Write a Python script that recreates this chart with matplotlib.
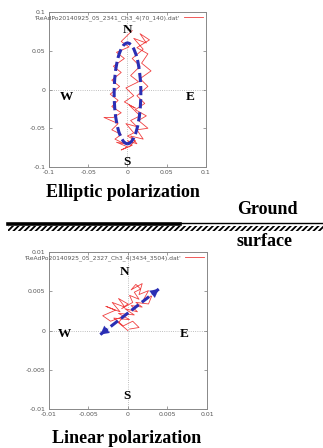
import numpy as np
import matplotlib
matplotlib.use('Agg')
import matplotlib.pyplot as plt
import matplotlib.patches as patches
import matplotlib.lines as lines

# elliptic trace (upper panel)
ell_x = [0.006, -0.008, 0.002, -0.014, -0.004, -0.018, -0.008, -0.020, -0.010, -0.022,
         -0.012, -0.020, -0.008, -0.018, -0.030, -0.012, -0.020, -0.008, -0.016, -0.004,
         -0.014, 0.000, -0.008, 0.006, 0.000, 0.012, 0.004, 0.020, 0.012, 0.026,
         0.014, 0.024, 0.010, 0.022, 0.012, 0.026, 0.016, 0.030, 0.018, 0.026,
         0.012, 0.028, 0.016, 0.024, 0.008, 0.020, 0.006, 0.016, 0.004, 0.014,
         -0.002, 0.008, -0.004, 0.010, 0.002, 0.016, 0.004, 0.012, -0.002, 0.008,
         0.000, 0.010, 0.002]
ell_y = [0.076, 0.062, 0.055, 0.048, 0.040, 0.030, 0.022, 0.012, 0.004, -0.006,
         -0.014, -0.022, -0.030, -0.036, -0.036, -0.044, -0.052, -0.058, -0.064, -0.070,
         -0.068, -0.074, -0.078, -0.072, -0.066, -0.070, -0.060, -0.064, -0.052, -0.050,
         -0.040, -0.034, -0.026, -0.018, -0.008, 0.004, 0.014, 0.024, 0.034, 0.046,
         0.054, 0.064, 0.072, 0.060, 0.066, 0.052, 0.040, 0.030, 0.018, 0.010,
         0.002, -0.008, -0.016, -0.024, -0.020, -0.034, -0.040, -0.048, -0.044, -0.056,
         -0.060, -0.066, -0.074]

# linear trace (lower panel)
lin_x = [0.0000, -0.0012, -0.0006, -0.0022, -0.0032, -0.0016, -0.0028, -0.0010, -0.0020, -0.0004,
         -0.0012, 0.0000, -0.0008, 0.0006, 0.0002, 0.0014, 0.0008, 0.0016, 0.0010, 0.0004,
         0.0018, 0.0014, 0.0026, 0.0020, 0.0030, 0.0026, 0.0010, 0.0018, 0.0004, 0.0012,
         -0.0004, 0.0008, -0.0012, 0.0002, -0.0018, -0.0006, 0.0006, 0.0014, 0.0002]
lin_y = [0.0000, 0.0010, 0.0018, 0.0012, 0.0019, 0.0026, 0.0031, 0.0024, 0.0036, 0.0030,
         0.0041, 0.0034, 0.0028, 0.0036, 0.0045, 0.0040, 0.0049, 0.0053, 0.0059, 0.0052,
         0.0060, 0.0046, 0.0051, 0.0040, 0.0044, 0.0034, 0.0036, 0.0030, 0.0032, 0.0024,
         0.0028, 0.0020, 0.0022, 0.0014, 0.0016, 0.0006, 0.0012, 0.0004, 0.0002]

ell_center = (0.0, -0.005)
ell_size = (0.034, 0.13)
arrow_tail = (-0.0035, -0.0005)
arrow_head = (0.0039, 0.0053)

top_ticks = [-0.1, -0.05, 0, 0.05, 0.1]
bot_ticks = [-0.01, -0.005, 0, 0.005, 0.01]
top_labels = ['-0.1', '-0.05', '0', '0.05', '0.1']
bot_labels = ['-0.01', '-0.005', '0', '0.005', '0.01']

serif = ['Liberation Serif', 'DejaVu Serif']
red = '#f04040'
blue = '#2a2eb4'
grey = '#555555'
dash = (0, (3.0, 1.3))

fig = plt.figure(figsize=(3.23, 4.48), dpi=100)


def panel(ax, ticks, labels, lim, xs, ys, name, dirs):
    ax.plot(xs, ys, color=red, lw=0.6, label=name)
    ax.axhline(0, color='#aaaaaa', ls=':', lw=0.6, zorder=0)
    ax.axvline(0, color='#aaaaaa', ls=':', lw=0.6, zorder=0)
    ax.set_xlim(-lim, lim)
    ax.set_ylim(-lim, lim)
    ax.set_xticks(ticks)
    ax.set_yticks(ticks)
    ax.set_xticklabels(labels)
    ax.set_yticklabels(labels)
    ax.tick_params(direction='in', length=2.5, width=0.5, labelsize=4.5,
                   labelcolor=grey, color='#777777', top=True, right=True, pad=2.5)
    for s in ax.spines.values():
        s.set_color('#888888')
        s.set_linewidth(0.7)
    leg = ax.legend(loc='upper right', frameon=False, fontsize=4.3, markerfirst=False,
                    handlelength=3.2, borderaxespad=0.1, handletextpad=0.6)
    for t in leg.get_texts():
        t.set_color(grey)
    for letter, (x, y) in dirs.items():
        ax.text(x, y, letter, fontsize=9.5, fontweight='bold', family=serif,
                ha='center', va='center')


ax1 = fig.add_axes([0.1517, 0.6272, 0.486, 0.346])
panel(ax1, top_ticks, top_labels, 0.1, ell_x, ell_y,
      "'ReAdPo20140925_05_2341_Ch3_4(70_140).dat'",
      {'N': (0.0, 0.077), 'W': (-0.078, -0.010), 'E': (0.080, -0.010), 'S': (-0.001, -0.094)})
ax1.add_patch(patches.Ellipse(ell_center, ell_size[0], ell_size[1], fill=False,
                              ls=dash, lw=2.2, edgecolor=blue, zorder=3))

ax2 = fig.add_axes([0.1517, 0.087, 0.489, 0.350])
panel(ax2, bot_ticks, bot_labels, 0.01, lin_x, lin_y,
      "'ReAdPo20140925_05_2327_Ch3_4(3434_3504).dat'",
      {'N': (-0.0004, 0.0075), 'W': (-0.0081, -0.0004), 'E': (0.0071, -0.0004), 'S': (-0.0001, -0.0084)})
ax2.plot([arrow_tail[0], arrow_head[0]], [arrow_tail[1], arrow_head[1]],
         color=blue, lw=2.2, ls=dash, zorder=3)
for a, b in [(arrow_tail, arrow_head), (arrow_head, arrow_tail)]:
    start = (a[0] + 0.85 * (b[0] - a[0]), a[1] + 0.85 * (b[1] - a[1]))
    ax2.annotate('', xy=b, xytext=start,
                 arrowprops=dict(arrowstyle='-|>,head_length=0.6,head_width=0.32',
                                 color=blue, lw=0.1, shrinkA=0, shrinkB=0), zorder=4)

# captions
fig.text(0.382, 0.571, 'Elliptic polarization', fontsize=13, fontweight='bold',
         family=serif, ha='center', va='center')
fig.text(0.392, 0.022, 'Linear polarization', fontsize=13, fontweight='bold',
         family=serif, ha='center', va='center')
fig.text(0.827, 0.532, 'Ground', fontsize=13, fontweight='bold',
         family=serif, ha='center', va='center')
fig.text(0.820, 0.460, 'surface', fontsize=13, fontweight='bold',
         family=serif, ha='center', va='center')

# ground surface line with hatching
fig.add_artist(lines.Line2D([8 / 323, 180 / 323], [1 - 224 / 448, 1 - 224 / 448],
                            color='black', lw=2.6, transform=fig.transFigure))
fig.add_artist(lines.Line2D([180 / 323, 1.0], [1 - 223 / 448, 1 - 223 / 448],
                            color='black', lw=1.0, transform=fig.transFigure))
plt.rcParams['hatch.linewidth'] = 1.3
fig.add_artist(patches.Rectangle((8 / 323, 1 - 231 / 448), 1 - 8 / 323, 5 / 448,
                                 facecolor='white', edgecolor='black', lw=0, hatch='//////',
                                 transform=fig.transFigure))

fig.savefig('out.png', dpi=100)
